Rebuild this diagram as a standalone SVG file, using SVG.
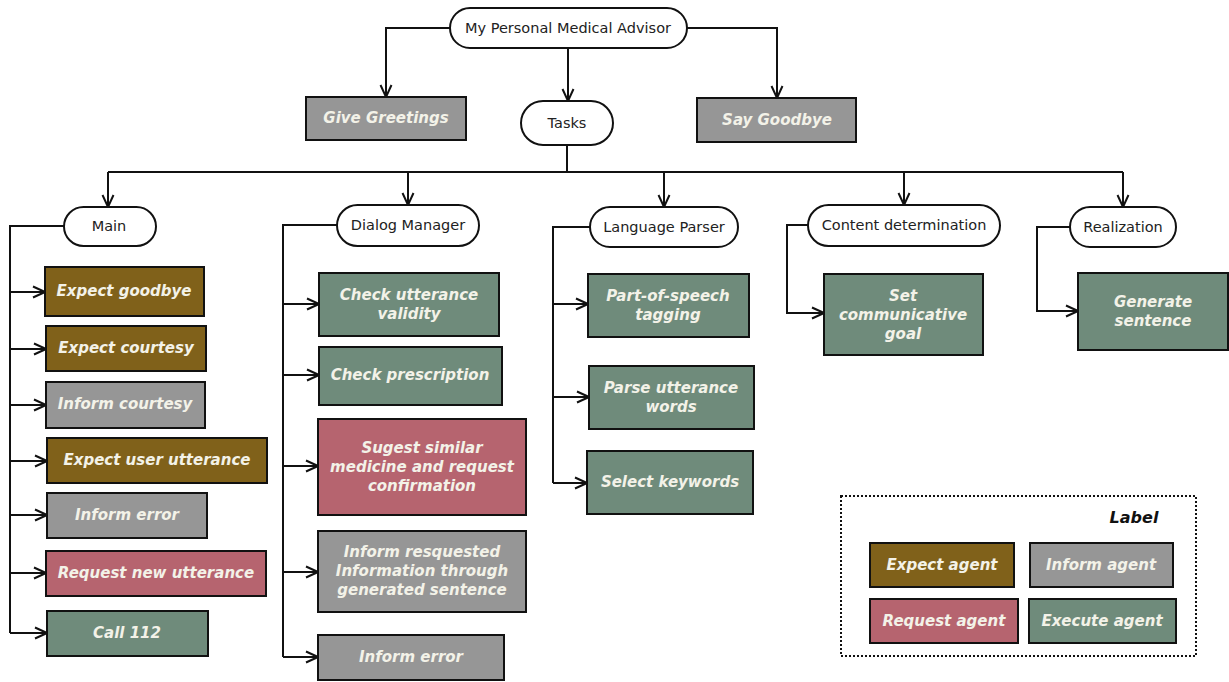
<svg xmlns="http://www.w3.org/2000/svg" width="1229" height="682" viewBox="0 0 1229 682">
  <style>
    .pill { fill: #ffffff; stroke: #111; stroke-width: 2; }
    .pt { font-family: "DejaVu Sans", sans-serif; font-size: 14.5px; fill: #222; text-anchor: middle; dominant-baseline: central; }
    .box { stroke: #111; stroke-width: 2; }
    .bt { font-family: "DejaVu Sans", sans-serif; font-size: 15px; font-weight: bold; font-style: italic; fill: #f3f2e8; text-anchor: middle; dominant-baseline: central; }
    .expect { fill: #80611a; }
    .inform { fill: #969696; }
    .request { fill: #b6646f; }
    .execute { fill: #6f8b7b; }
    .wire { fill: none; stroke: #111; stroke-width: 2; }
  </style>
  <defs>
    <marker id="arrow" viewBox="0 0 14 14" refX="13" refY="7" markerWidth="14" markerHeight="14" markerUnits="userSpaceOnUse" orient="auto">
      <path d="M1,1.5 L13,7 L1,12.5" fill="none" stroke="#111" stroke-width="2"/>
    </marker>
  </defs>
  <rect width="1229" height="682" fill="#ffffff"/>

  <!-- connectors -->
  <g id="connectors" class="wire">
    <path d="M450,28 H386 V97" marker-end="url(#arrow)"/>
    <path d="M687,28 H777 V98" marker-end="url(#arrow)"/>
    <path d="M568,48 V101" marker-end="url(#arrow)"/>
    <path d="M567,145 V172"/>
    <path d="M108,172 H1123"/>
    <path d="M108,172 V207" marker-end="url(#arrow)"/>
    <path d="M408,172 V205" marker-end="url(#arrow)"/>
    <path d="M664,172 V207" marker-end="url(#arrow)"/>
    <path d="M904,172 V205" marker-end="url(#arrow)"/>
    <path d="M1123,172 V207" marker-end="url(#arrow)"/>
    <!-- Main branch -->
    <path d="M64,226 H10 V633"/>
    <path d="M10,292 H45" marker-end="url(#arrow)"/>
    <path d="M10,349 H46" marker-end="url(#arrow)"/>
    <path d="M10,405 H46" marker-end="url(#arrow)"/>
    <path d="M10,461 H47" marker-end="url(#arrow)"/>
    <path d="M10,515 H47" marker-end="url(#arrow)"/>
    <path d="M10,573 H46" marker-end="url(#arrow)"/>
    <path d="M10,633 H47" marker-end="url(#arrow)"/>
    <!-- Dialog Manager branch -->
    <path d="M337,225 H283 V657"/>
    <path d="M283,304 H319" marker-end="url(#arrow)"/>
    <path d="M283,375 H319" marker-end="url(#arrow)"/>
    <path d="M283,466 H318" marker-end="url(#arrow)"/>
    <path d="M283,572 H318" marker-end="url(#arrow)"/>
    <path d="M283,657 H318" marker-end="url(#arrow)"/>
    <!-- Language Parser branch -->
    <path d="M590,227 H553 V483"/>
    <path d="M553,304 H588" marker-end="url(#arrow)"/>
    <path d="M553,397 H589" marker-end="url(#arrow)"/>
    <path d="M553,483 H587" marker-end="url(#arrow)"/>
    <!-- Content determination branch -->
    <path d="M808,225 H787 V313 H824" marker-end="url(#arrow)"/>
    <!-- Realization branch -->
    <path d="M1070,227 H1037 V311 H1078" marker-end="url(#arrow)"/>
  </g>

  <!-- top level -->
  <g id="root">
    <rect class="pill" x="450" y="8" width="237" height="40" rx="20"/>
    <text class="pt" x="568" y="28">My Personal Medical Advisor</text>
  </g>
  <g id="give-greetings">
    <rect class="box inform" x="306" y="97" width="160" height="43"/>
    <text class="bt" x="386" y="118">Give Greetings</text>
  </g>
  <g id="tasks">
    <rect class="pill" x="521" y="101" width="92" height="44" rx="22"/>
    <text class="pt" x="567" y="123">Tasks</text>
  </g>
  <g id="say-goodbye">
    <rect class="box inform" x="697" y="98" width="159" height="44"/>
    <text class="bt" x="777" y="120">Say Goodbye</text>
  </g>

  <!-- task groups -->
  <g id="main">
    <rect class="pill" x="64" y="207" width="92" height="39" rx="19.5"/>
    <text class="pt" x="109" y="226">Main</text>
  </g>
  <g id="dialog-manager">
    <rect class="pill" x="337" y="205" width="142" height="41" rx="20.5"/>
    <text class="pt" x="408" y="225">Dialog Manager</text>
  </g>
  <g id="language-parser">
    <rect class="pill" x="590" y="207" width="148" height="40" rx="20"/>
    <text class="pt" x="664" y="227">Language Parser</text>
  </g>
  <g id="content-determination">
    <rect class="pill" x="808" y="205" width="192" height="41" rx="20.5"/>
    <text class="pt" x="904" y="225">Content determination</text>
  </g>
  <g id="realization">
    <rect class="pill" x="1070" y="207" width="106" height="40" rx="20"/>
    <text class="pt" x="1123" y="227">Realization</text>
  </g>

  <!-- Main agents -->
  <g id="expect-goodbye">
    <rect class="box expect" x="45" y="267" width="159" height="49"/>
    <text class="bt" x="124" y="291">Expect goodbye</text>
  </g>
  <g id="expect-courtesy">
    <rect class="box expect" x="46" y="326" width="160" height="45"/>
    <text class="bt" x="126" y="348">Expect courtesy</text>
  </g>
  <g id="inform-courtesy">
    <rect class="box inform" x="46" y="382" width="159" height="46"/>
    <text class="bt" x="125" y="404">Inform courtesy</text>
  </g>
  <g id="expect-user-utterance">
    <rect class="box expect" x="47" y="438" width="220" height="45"/>
    <text class="bt" x="157" y="460">Expect user utterance</text>
  </g>
  <g id="inform-error-main">
    <rect class="box inform" x="47" y="493" width="160" height="45"/>
    <text class="bt" x="127" y="515">Inform error</text>
  </g>
  <g id="request-new-utterance">
    <rect class="box request" x="46" y="551" width="220" height="45"/>
    <text class="bt" x="156" y="573">Request new utterance</text>
  </g>
  <g id="call-112">
    <rect class="box execute" x="47" y="611" width="161" height="45"/>
    <text class="bt" x="127" y="633">Call 112</text>
  </g>

  <!-- Dialog Manager agents -->
  <g id="check-utterance-validity">
    <rect class="box execute" x="319" y="273" width="180" height="63"/>
    <text class="bt" x="409" y="295">Check utterance</text>
    <text class="bt" x="409" y="314">validity</text>
  </g>
  <g id="check-prescription">
    <rect class="box execute" x="319" y="347" width="183" height="58"/>
    <text class="bt" x="410" y="375">Check prescription</text>
  </g>
  <g id="suggest-similar">
    <rect class="box request" x="318" y="419" width="208" height="96"/>
    <text class="bt" x="422" y="448">Sugest similar</text>
    <text class="bt" x="422" y="467">medicine and request</text>
    <text class="bt" x="422" y="486">confirmation</text>
  </g>
  <g id="inform-requested">
    <rect class="box inform" x="318" y="531" width="208" height="81"/>
    <text class="bt" x="422" y="552">Inform resquested</text>
    <text class="bt" x="422" y="571">Information through</text>
    <text class="bt" x="422" y="590">generated sentence</text>
  </g>
  <g id="inform-error-dm">
    <rect class="box inform" x="318" y="635" width="186" height="45"/>
    <text class="bt" x="411" y="657">Inform error</text>
  </g>

  <!-- Language Parser agents -->
  <g id="pos-tagging">
    <rect class="box execute" x="588" y="274" width="161" height="63"/>
    <text class="bt" x="668" y="296">Part-of-speech</text>
    <text class="bt" x="668" y="315">tagging</text>
  </g>
  <g id="parse-utterance-words">
    <rect class="box execute" x="589" y="366" width="165" height="63"/>
    <text class="bt" x="671" y="388">Parse utterance</text>
    <text class="bt" x="671" y="407">words</text>
  </g>
  <g id="select-keywords">
    <rect class="box execute" x="587" y="451" width="166" height="63"/>
    <text class="bt" x="670" y="482">Select keywords</text>
  </g>

  <!-- Content determination agent -->
  <g id="set-communicative-goal">
    <rect class="box execute" x="824" y="274" width="159" height="81"/>
    <text class="bt" x="903" y="296">Set</text>
    <text class="bt" x="903" y="315">communicative</text>
    <text class="bt" x="903" y="334">goal</text>
  </g>

  <!-- Realization agent -->
  <g id="generate-sentence">
    <rect class="box execute" x="1078" y="273" width="150" height="77"/>
    <text class="bt" x="1153" y="302">Generate</text>
    <text class="bt" x="1153" y="321">sentence</text>
  </g>

  <!-- legend -->
  <g id="legend">
    <rect x="841" y="496" width="355" height="160" fill="none" stroke="#111" stroke-width="2" stroke-dasharray="2,2"/>
    <text class="bt" x="1134" y="517" style="fill:#111; font-size:16px">Label</text>
    <rect class="box expect" x="870" y="543" width="144" height="44"/>
    <text class="bt" x="942" y="565">Expect agent</text>
    <rect class="box inform" x="1030" y="543" width="143" height="44"/>
    <text class="bt" x="1101" y="565">Inform agent</text>
    <rect class="box request" x="870" y="599" width="148" height="44"/>
    <text class="bt" x="944" y="621">Request agent</text>
    <rect class="box execute" x="1029" y="599" width="147" height="44"/>
    <text class="bt" x="1102" y="621">Execute agent</text>
  </g>
</svg>
